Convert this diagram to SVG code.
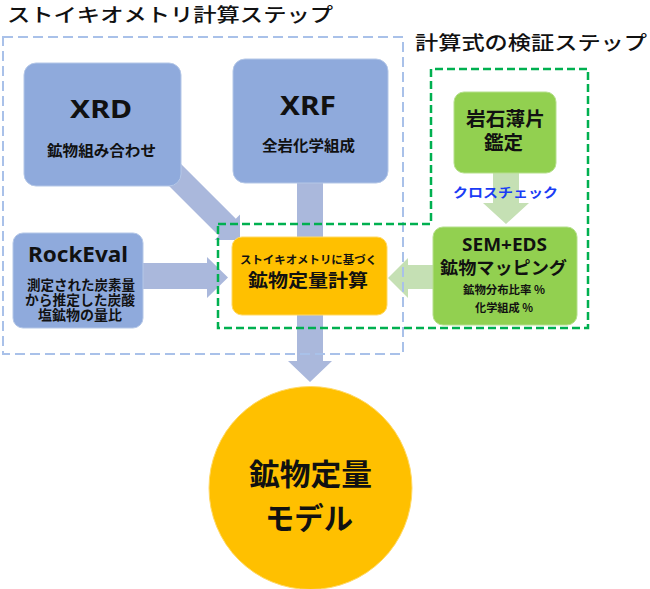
<svg xmlns="http://www.w3.org/2000/svg" width="650" height="589" viewBox="0 0 650 589">
<style>
.jp{font-family:"Noto Sans CJK JP","Noto Sans",sans-serif;font-weight:700;fill:#111;text-anchor:middle}
.lat{font-family:"Noto Sans","Open Sans","Liberation Sans",sans-serif;font-weight:700;fill:#111;text-anchor:middle}
.ttl{font-family:"Noto Sans CJK JP","Noto Sans",sans-serif;font-weight:500;fill:#111;font-size:19px}
.blue{fill:#8faadc;stroke:#b4c7e7;stroke-width:1}
.green{fill:#92d050;stroke:#b5df8c;stroke-width:1}
.orange{fill:#ffc000;stroke:#ffd966;stroke-width:1}
.arB{fill:#aab8dc}
.arG{fill:#c5e0b4}
</style>
<rect width="650" height="589" fill="#fff"/>
<g id="connectors">
  <polygon class="arB" points="159.5,176.5 176.5,159.5 235.8,218.8 240,214.6 240,240 214.6,240 218.8,235.8"/>
  <rect class="arB" x="297" y="180" width="26" height="60"/>
  <polygon class="arB" points="297,310 323,310 323,361 332,361 310,382 288,361 297,361"/>
  <polygon class="arB" points="140,263 207,263 207,257 228,277.5 207,298 207,289 140,289"/>
  <polygon class="arG" points="440,265 408,265 408,258 388,278 408,298 408,289 440,289"/>
  <polygon class="arG" points="493,170 519,170 519,203 529,203 506,224 483,203 493,203"/>
</g>
<g id="frames" fill="none">
  <rect x="3" y="37" width="400" height="317" stroke="#a9c1e9" stroke-width="2" stroke-dasharray="10,5"/>
  <polygon points="218,224 431,224 431,69 588,69 588,328 218,328" stroke="#00b050" stroke-width="2.5" stroke-dasharray="8,4"/>
</g>
<g id="titles">
  <text class="ttl" x="7" y="22" textLength="326" lengthAdjust="spacingAndGlyphs">ストイキオメトリ計算ステップ</text>
  <text class="ttl" x="415" y="50" textLength="232" lengthAdjust="spacingAndGlyphs">計算式の検証ステップ</text>
</g>
<g id="xrd">
  <rect class="blue" x="24" y="63" width="157" height="123" rx="12"/>
  <text class="lat" x="101" y="118" font-size="25" textLength="62" lengthAdjust="spacingAndGlyphs">XRD</text>
  <text class="jp" x="101.5" y="155.5" font-size="15" textLength="109" lengthAdjust="spacingAndGlyphs">鉱物組み合わせ</text>
</g>
<g id="xrf">
  <rect class="blue" x="233" y="59" width="155" height="124" rx="12"/>
  <text class="lat" x="308" y="115" font-size="27" textLength="56" lengthAdjust="spacingAndGlyphs">XRF</text>
  <text class="jp" x="308.5" y="150.5" font-size="15" textLength="93" lengthAdjust="spacingAndGlyphs">全岩化学組成</text>
</g>
<g id="rockeval">
  <rect class="blue" x="13" y="233" width="130" height="95" rx="10"/>
  <text class="lat" x="78" y="262" font-size="21" textLength="100" lengthAdjust="spacingAndGlyphs">RockEval</text>
  <text class="jp" x="81" y="290" font-size="13.5" textLength="108" lengthAdjust="spacingAndGlyphs">測定された炭素量</text>
  <text class="jp" x="80" y="305" font-size="13.5" textLength="110" lengthAdjust="spacingAndGlyphs">から推定した炭酸</text>
  <text class="jp" x="80" y="320" font-size="13.5" textLength="84" lengthAdjust="spacingAndGlyphs">塩鉱物の量比</text>
</g>
<g id="calc">
  <rect class="orange" x="232" y="237" width="155" height="78" rx="10"/>
  <text class="jp" x="308.5" y="264" font-size="11" textLength="137" lengthAdjust="spacingAndGlyphs">ストイキオメトリに基づく</text>
  <text class="jp" x="308" y="287" font-size="18" textLength="120" lengthAdjust="spacingAndGlyphs">鉱物定量計算</text>
</g>
<g id="thinsection">
  <rect class="green" x="454" y="92" width="102" height="81" rx="10"/>
  <text class="jp" x="505.5" y="126" font-size="19" textLength="79" lengthAdjust="spacingAndGlyphs">岩石薄片</text>
  <text class="jp" x="503.5" y="150" font-size="19" textLength="39" lengthAdjust="spacingAndGlyphs">鑑定</text>
</g>
<g id="crosscheck">
  <text class="jp" x="505.5" y="197" font-size="13" textLength="105" lengthAdjust="spacingAndGlyphs" style="fill:#1a3cf5">クロスチェック</text>
</g>
<g id="semeds">
  <rect class="green" x="433" y="227" width="144" height="98" rx="10"/>
  <text class="lat" x="504.5" y="251" font-size="17" textLength="85" lengthAdjust="spacingAndGlyphs">SEM+EDS</text>
  <text class="jp" x="503.5" y="274" font-size="17.5" textLength="127" lengthAdjust="spacingAndGlyphs">鉱物マッピング</text>
  <text class="jp" x="504" y="294" font-size="11" textLength="82" lengthAdjust="spacingAndGlyphs">鉱物分布比率 %</text>
  <text class="jp" x="504" y="312" font-size="11" textLength="58" lengthAdjust="spacingAndGlyphs">化学組成 %</text>
</g>
<g id="model">
  <circle cx="310.5" cy="488" r="101.5" fill="#ffc000" stroke="#ffd966" stroke-width="1"/>
  <text class="jp" x="310.5" y="485" font-size="30" textLength="123" lengthAdjust="spacingAndGlyphs">鉱物定量</text>
  <text class="jp" x="309" y="529" font-size="30" textLength="88" lengthAdjust="spacingAndGlyphs">モデル</text>
</g>
</svg>
